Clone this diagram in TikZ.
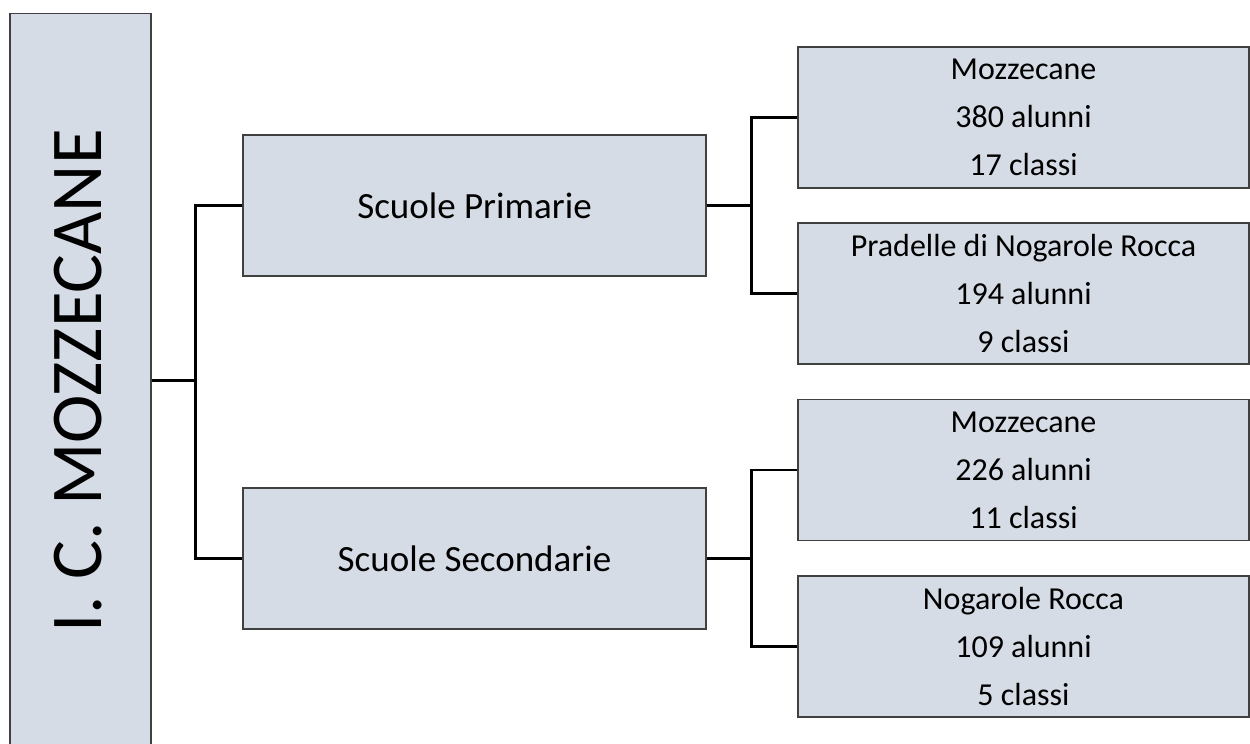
\documentclass[tikz,border=0pt]{standalone}
\usepackage{fontspec}
\setmainfont{Carlito}
\definecolor{boxfill}{HTML}{D6DCE5}
\definecolor{boxline}{HTML}{404040}
\begin{document}
\begin{tikzpicture}[x=1pt,y=-1pt,
  orgbox/.style={draw=boxline,line width=1.5pt,fill=boxfill,rectangle,inner sep=0pt,anchor=center},
  midbox/.style={orgbox,minimum width=463pt,minimum height=141pt,font=\fontsize{37}{44}\selectfont},
  leafbox/.style={orgbox,minimum width=451pt,minimum height=141pt,align=center,font=\fontsize{32}{48}\selectfont},
  link/.style={draw=black,line width=2.75pt}]
\useasboundingbox (0,0) rectangle (1250,744);
\begin{scope}
\clip (0,0) rectangle (1250,744);
\node[orgbox,minimum width=141pt,minimum height=734pt] (L) at (80.5,380.5) {};
\end{scope}
\node[rotate=90,font=\fontsize{73}{80}\selectfont,inner sep=0pt] (Lt) at (78.5,381) {I. C. MOZZECANE};
\node[midbox] (P) at (474.5,205.5) {Scuole Primarie};
\node[midbox] (S) at (474.5,558.5) {Scuole Secondarie};
\node[leafbox] (R1) at (1023.5,117.5) {Mozzecane\\380 alunni\\17 classi};
\node[leafbox] (R2) at (1023.5,293.5) {Pradelle di Nogarole Rocca\\194 alunni\\9 classi};
\node[leafbox] (R3) at (1023.5,470) {Mozzecane\\226 alunni\\11 classi};
\node[leafbox] (R4) at (1023.5,646.5) {Nogarole Rocca\\109 alunni\\5 classi};
\draw[link] (L.east) -- ++(45,0) coordinate (J);
\draw[link] (P.west) -- ++(-47,0) |- (J);
\draw[link] (S.west) -- ++(-47,0) |- (J);
\draw[link] (R1.west) -- ++(-46,0) |- (P.east);
\draw[link] (R2.west) -- ++(-46,0) |- (P.east);
\draw[link] (R3.west) -- ++(-46,0) |- (S.east);
\draw[link] (R4.west) -- ++(-46,0) |- (S.east);
\end{tikzpicture}
\end{document}
